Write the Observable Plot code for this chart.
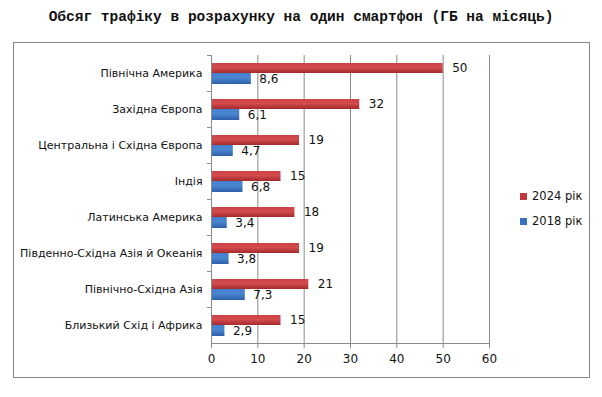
<!DOCTYPE html>
<html><head><meta charset="utf-8">
<script src="https://cdn.jsdelivr.net/npm/d3@7"></script>
<script src="https://cdn.jsdelivr.net/npm/@observablehq/plot@0.6"></script>
<style>
body{margin:0;background:#fff;}
#wrap{position:relative;width:602px;height:397px;overflow:hidden;font-family:"DejaVu Sans",sans-serif;}
#title{position:absolute;left:0;width:602px;top:9px;text-align:center;font-family:"Liberation Mono",monospace;font-weight:bold;font-size:14.5px;color:#111;}
#border{position:absolute;left:13px;top:42px;width:575px;height:334px;border:1px solid #868686;}
#chart{position:absolute;left:0;top:0;}
.leg{position:absolute;left:520px;font-size:11.5px;color:#111;display:flex;align-items:center;}
.leg span.sw{display:inline-block;width:7px;height:7px;margin-right:5px;}
</style></head>
<body><div id="wrap">
<div id="border"></div>
<div id="title">Обсяг трафіку в розрахунку на один смартфон (ГБ на місяць)</div>
<div id="chart"></div>
<div class="leg" style="top:189px"><span class="sw" style="background:#c0383b"></span>2024 рік</div>
<div class="leg" style="top:214px"><span class="sw" style="background:#3b70be"></span>2018 рік</div>
</div>
<script>
const regions = ["Північна Америка","Західна Європа","Центральна і Східна Європа","Індія","Латинська Америка","Південно-Східна Азія й Океанія","Північно-Східна Азія","Близький Схід і Африка"];
const values2024 = [50,32,19,15,18,19,21,15];
const values2018 = [8.6,6.1,4.7,6.8,3.4,3.8,7.3,2.9];
const xTicks = [0,10,20,30,40,50,60];

const d24 = regions.map((r,i)=>({region:r, v:values2024[i]}));
const d18 = regions.map((r,i)=>({region:r, v:values2018[i]}));
const fmt = v => String(v).replace(".", ",");

const chart = Plot.plot({
  width: 602, height: 397,
  marginTop: 55, marginBottom: 54, marginLeft: 211, marginRight: 113,
  style: {fontFamily: "DejaVu Sans, sans-serif", fontSize: "11px", color: "#111", background: "transparent"},
  x: {domain: [0, 60], ticks: xTicks, axis: null},
  y: {domain: regions, padding: 0, axis: null},
  marks: [
    Plot.ruleX(xTicks.slice(1), {stroke: "#8a8a8a", strokeWidth: 1, strokeOpacity: 1}),
    Plot.barX(d24, {x: "v", y: "region", fill: "url(#gRed)", insetTop: 8, insetBottom: 18}),
    Plot.barX(d18, {x: "v", y: "region", fill: "url(#gBlue)", insetTop: 18, insetBottom: 7}),
    Plot.text(d24, {x: "v", y: "region", text: d => fmt(d.v), dx: 9, dy: -5, textAnchor: "start", fontSize: 12, fill: "#111"}),
    Plot.text(d18, {x: "v", y: "region", text: d => fmt(d.v), dx: 8, dy: 6, textAnchor: "start", fontSize: 12, fill: "#111"}),
    Plot.axisY({tickSize: 0, tickPadding: 9, fontSize: 11, label: null}),
    Plot.axisY({tickSize: 4, dy: -18, text: null, label: null, stroke: "#8a8a8a"}),
    Plot.frame({anchor: "left", stroke: "#8a8a8a"}),
    Plot.frame({anchor: "bottom", stroke: "#8a8a8a"}),
    Plot.axisX({ticks: xTicks, tickSize: 5, tickPadding: 6, fontSize: 12, label: null, stroke: "#8a8a8a", tickFormat: d => String(d)})
  ]
});
const ns = "http://www.w3.org/2000/svg";
const defs = document.createElementNS(ns, "defs");
function grad(id, stops) {
  const g = document.createElementNS(ns, "linearGradient");
  g.setAttribute("id", id); g.setAttribute("x1", "0"); g.setAttribute("y1", "0"); g.setAttribute("x2", "0"); g.setAttribute("y2", "1");
  stops.forEach(([o, c]) => { const s = document.createElementNS(ns, "stop"); s.setAttribute("offset", o); s.setAttribute("stop-color", c); g.appendChild(s); });
  defs.appendChild(g);
}
grad("gRed", [["0", "#c94446"], ["0.45", "#d24b4d"], ["1", "#a42a2d"]]);
grad("gBlue", [["0", "#4680cc"], ["0.45", "#4a86d2"], ["1", "#2d5fa8"]]);
chart.insertBefore(defs, chart.firstChild);
document.getElementById("chart").appendChild(chart);
</script>
</body></html>
